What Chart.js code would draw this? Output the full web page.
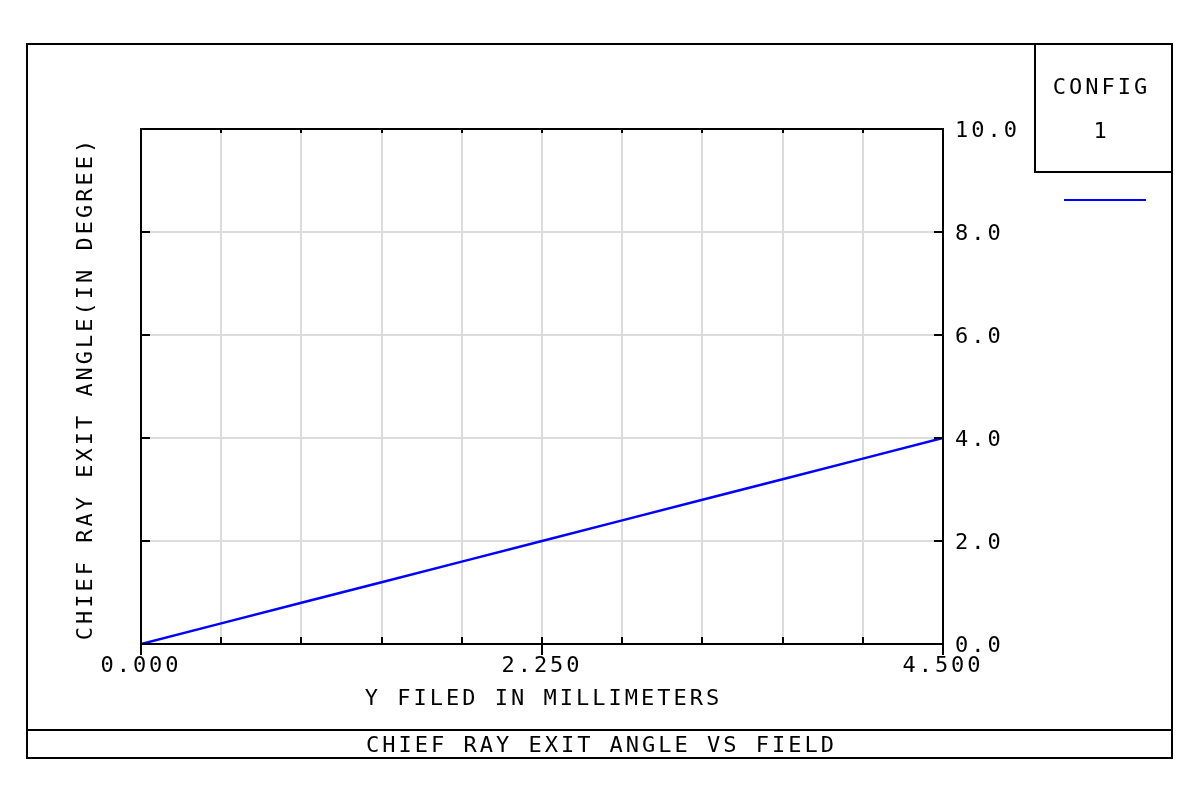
<!DOCTYPE html>
<html>
<head>
<meta charset="utf-8">
<script src="https://cdn.jsdelivr.net/npm/chart.js@4/dist/chart.umd.min.js"></script>
<style>
  html, body { margin: 0; padding: 0; background: #fff; }
  canvas { display: block; }
</style>
</head>
<body>
<canvas id="exitAngleChart" width="1200" height="802"></canvas>
<script>
// field positions (mm) and chief ray exit angle (deg)
const fieldMm = [0, 0.45, 0.9, 1.35, 1.8, 2.25, 2.7, 3.15, 3.6, 4.05, 4.5];
const exitAngleDeg = [0, 0.4, 0.8, 1.2, 1.6, 2.0, 2.4, 2.8, 3.2, 3.6, 4.0];

const xTicks = [0, 0.45, 0.9, 1.35, 1.8, 2.25, 2.7, 3.15, 3.6, 4.05, 4.5];
const xLabelled = [0, 2.25, 4.5];
const yTicks = [0, 2, 4, 6, 8, 10];

const plotTitle = 'CHIEF RAY EXIT ANGLE VS FIELD';
const xTitle = 'Y FILED IN MILLIMETERS';
const yTitle = 'CHIEF RAY EXIT ANGLE(IN DEGREE)';
const configLabel = 'CONFIG';
const configNumber = '1';

const FONT = '22px "DejaVu Sans Mono", "Liberation Mono", monospace';
const SPACING = '3px';

function label(ctx, text, x, y) {
  // letterSpacing adds a trailing gap, nudge back to centre
  ctx.fillText(text, x + 1.5, y);
}

const framePlugin = {
  id: 'frame',
  beforeDraw(chart) {
    chart.ctx.letterSpacing = SPACING;
  },
  afterDraw(chart) {
    const ctx = chart.ctx;
    const a = chart.chartArea;
    const xs = chart.scales.x;
    const ys = chart.scales.y;
    ctx.save();
    ctx.strokeStyle = '#000';
    ctx.fillStyle = '#000';
    ctx.lineWidth = 2;

    // outer frame + bottom title bar
    ctx.strokeRect(27, 44, 1145, 714);
    ctx.beginPath();
    ctx.moveTo(27, 730); ctx.lineTo(1172, 730);
    ctx.stroke();

    // config box
    ctx.strokeRect(1035, 44, 137, 128);

    // plot frame
    ctx.strokeRect(a.left, a.top, a.right - a.left, a.bottom - a.top);

    // inward ticks
    ctx.beginPath();
    xTicks.forEach(v => {
      const px = Math.round(xs.getPixelForValue(v));
      const down = xLabelled.includes(v) ? 11 : 0;
      ctx.moveTo(px, a.bottom + down); ctx.lineTo(px, a.bottom - 7);
      ctx.moveTo(px, a.top); ctx.lineTo(px, a.top + 4);
    });
    yTicks.forEach(v => {
      const py = Math.round(ys.getPixelForValue(v));
      ctx.moveTo(a.left, py); ctx.lineTo(a.left + 9, py);
      ctx.moveTo(a.right, py); ctx.lineTo(a.right - 9, py);
    });
    ctx.stroke();

    // legend sample
    const ds = chart.data.datasets[0];
    ctx.strokeStyle = ds.borderColor;
    ctx.beginPath();
    ctx.moveTo(1064, 200); ctx.lineTo(1146, 200);
    ctx.stroke();

    // texts
    ctx.font = FONT;
    ctx.letterSpacing = SPACING;
    ctx.textAlign = 'center';
    ctx.textBaseline = 'middle';
    label(ctx, configLabel, 1100, 88);
    label(ctx, configNumber, 1100, 132);
    label(ctx, xTitle, (a.left + a.right) / 2, 699);
    label(ctx, plotTitle, 600, 746);

    ctx.translate(86, 390);
    ctx.rotate(-Math.PI / 2);
    label(ctx, yTitle, 0, 0);
    ctx.restore();
    ctx.letterSpacing = '0px';
  }
};

new Chart(document.getElementById('exitAngleChart'), {
  type: 'scatter',
  data: {
    datasets: [{
      label: 'CONFIG 1',
      data: fieldMm.map((x, i) => ({ x: x, y: exitAngleDeg[i] })),
      showLine: true,
      borderColor: '#0000ff',
      borderWidth: 2.5,
      pointRadius: 0,
      fill: false
    }]
  },
  options: {
    responsive: false,
    animation: false,
    layout: { padding: { top: 129, left: 141, right: 0, bottom: 0 } },
    plugins: {
      legend: { display: false },
      tooltip: { enabled: false }
    },
    scales: {
      x: {
        type: 'linear',
        min: 0,
        max: 4.5,
        afterBuildTicks: s => { s.ticks = xTicks.map(v => ({ value: v })); },
        afterFit: s => { s.height = 158; },
        border: { display: false },
        grid: { color: '#dcdcdc', lineWidth: 2, drawTicks: false },
        ticks: {
          color: '#000',
          font: { family: '"DejaVu Sans Mono"', size: 22 },
          padding: 9,
          maxRotation: 0,
          autoSkip: false,
          callback: v => xLabelled.includes(v) ? v.toFixed(3) : ''
        }
      },
      y: {
        type: 'linear',
        position: 'right',
        min: 0,
        max: 10,
        afterBuildTicks: s => { s.ticks = yTicks.map(v => ({ value: v })); },
        afterFit: s => { s.width = 257; },
        border: { display: false },
        grid: { color: '#dcdcdc', lineWidth: 2, drawTicks: false },
        ticks: {
          color: '#000',
          font: { family: '"DejaVu Sans Mono"', size: 22 },
          padding: 12,
          labelOffset: 2,
          autoSkip: false,
          callback: v => v.toFixed(1)
        }
      }
    }
  },
  plugins: [framePlugin]
});
</script>
</body>
</html>
